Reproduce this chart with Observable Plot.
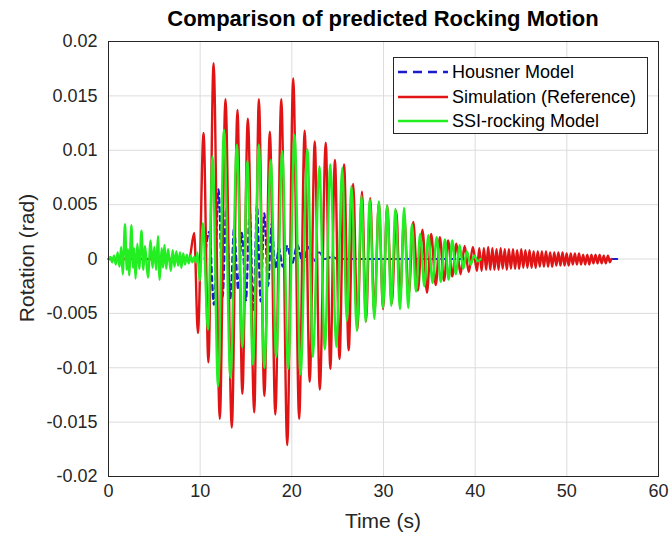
<!DOCTYPE html>
<html>
<head>
<meta charset="utf-8">
<script src="https://cdn.jsdelivr.net/npm/d3@7"></script>
<script src="https://cdn.jsdelivr.net/npm/@observablehq/plot@0.6"></script>
<style>
  html, body { margin: 0; padding: 0; background: #fff; }
  #wrap { position: relative; width: 670px; height: 537px; font-family: "Liberation Sans", Arial, sans-serif; color: #262626; }
  #title { position: absolute; left: 0; width: 766px; top: 6px; text-align: center; font-weight: bold; font-size: 22px; color: #000; }
  #xlabel { position: absolute; left: 0; width: 766px; top: 509px; text-align: center; font-size: 21px; }
  #ylabel { position: absolute; left: 27px; top: 258px; transform: translate(-50%, -50%) rotate(-90deg); font-size: 21px; white-space: nowrap; }
  #legend { position: absolute; left: 393px; top: 57px; width: 253px; height: 75px; border: 1px solid #262626; background: #fff; }
  .row { position: absolute; left: 0; height: 22px; display: flex; align-items: center; font-size: 18px; color: #000; }
  .row svg { margin-left: 4px; margin-right: 4px; }
</style>
</head>
<body>
<div id="wrap">
  <div id="chart"></div>
  <div id="title">Comparison of predicted Rocking Motion</div>
  <div id="xlabel">Time (s)</div>
  <div id="ylabel">Rotation (rad)</div>
  <div id="legend"></div>
</div>
<script>
// Tick values
const xTicks = [0, 10, 20, 30, 40, 50, 60];
const yTicks = [-0.02, -0.015, -0.01, -0.005, 0, 0.005, 0.01, 0.015, 0.02];

// Series names and colours
const seriesNames = ["Housner Model", "Simulation (Reference)", "SSI-rocking Model"];
const seriesColors = ["#1a1acf", "#e01414", "#22ee22"];

// Housner model: [time (s), rotation (rad)] at turning points
const housner = [
  [10.5, 0], [11.0, 0.0025], [11.5, -0.0042], [12.0, 0.0064], [12.45, -0.0035], [12.85, 0.0047],
  [13.3, -0.0036], [13.7, 0.0029], [14.15, -0.0028], [14.55, 0.0024], [15.0, -0.0038], [15.4, 0.0045],
  [15.8, -0.0048], [16.2, 0.0049], [16.6, -0.0039], [17.0, 0.0042], [17.4, -0.0025], [17.8, 0.0032],
  [18.2, -0.0008], [18.6, 0.001], [19.0, -0.0007], [19.5, 0.0012], [20.0, -0.0005], [20.6, 0.0013],
  [21.2, -0.0004], [21.8, 0.0011], [22.4, -0.0002], [23.0, 0.0006], [23.6, 0.0], [24.4, 0.0002],
  [25.0, 0.0], [55.7, 0.0]
];

// Simulation (reference): [time (s), rotation (rad)] at turning points
const simulation = [
  [0, 0], [8.8, 0], [9.35, 0.0024], [9.75, -0.0068], [10.37, 0.0116], [10.9, -0.0095],
  [11.46, 0.018], [12.14, -0.0147], [12.76, 0.0147], [13.45, -0.0155], [14.07, 0.0137], [14.6, -0.0124],
  [15.2, 0.0129], [15.9, -0.0141], [16.4, 0.0147], [17.0, -0.0126], [17.6, 0.0117], [18.2, -0.0143],
  [18.85, 0.0147], [19.5, -0.0171], [20.15, 0.0166], [20.8, -0.0147], [21.4, 0.0118], [21.95, -0.0113],
  [22.5, 0.0108], [23.05, -0.012], [23.7, 0.0107], [24.2, -0.0101], [24.7, 0.0091], [25.2, -0.0092],
  [25.7, 0.0087], [26.2, -0.0084], [26.7, 0.0069], [27.15, -0.0065], [27.65, 0.0062], [28.1, -0.0057],
  [28.55, 0.0056], [29.0, -0.0051], [29.5, 0.0052], [29.95, -0.0046], [30.4, 0.0049], [30.9, -0.0041],
  [31.4, 0.0044], [31.8, -0.0037], [32.25, 0.0039], [32.75, -0.0033], [33.25, 0.0034], [33.75, -0.0029],
  [34.25, 0.0027], [34.75, -0.0031], [35.2, 0.0023], [35.7, -0.0024], [36.15, 0.002], [36.6, -0.002],
  [37.05, 0.0017], [37.5, -0.0016], [37.95, 0.0014], [38.4, -0.0014], [38.85, 0.0012], [39.3, -0.0012],
  [39.75, 0.0011], [40.2, -0.0011], [40.45, 0.001], [40.7, -0.0011], [40.95, 0.001], [41.2, -0.001],
  [41.42, 0.0011], [41.65, -0.001], [41.88, 0.001], [42.1, -0.001], [42.33, 0.0009], [42.55, -0.001],
  [42.78, 0.001], [43.0, -0.0009], [43.23, 0.0009], [43.45, -0.001], [43.68, 0.0009], [43.9, -0.0009],
  [44.13, 0.0009], [44.35, -0.0009], [44.58, 0.0008], [44.8, -0.0009], [45.03, 0.0009], [45.25, -0.0008],
  [45.48, 0.0008], [45.7, -0.0008], [45.93, 0.0008], [46.15, -0.0008], [46.38, 0.0007], [46.6, -0.0008],
  [46.83, 0.0007], [47.05, -0.0007], [47.28, 0.0007], [47.5, -0.0007], [47.73, 0.0007], [47.95, -0.0007],
  [48.18, 0.0006], [48.4, -0.0007], [48.63, 0.0006], [48.85, -0.0006], [49.08, 0.0006], [49.3, -0.0006],
  [49.53, 0.0006], [49.75, -0.0006], [49.98, 0.0005], [50.2, -0.0006], [50.43, 0.0005], [50.65, -0.0005],
  [50.88, 0.0005], [51.1, -0.0005], [51.33, 0.0005], [51.55, -0.0005], [51.78, 0.0004], [52.0, -0.0005],
  [52.23, 0.0004], [52.45, -0.0005], [52.68, 0.0004], [52.9, -0.0004], [53.13, 0.0004], [53.35, -0.0004],
  [53.58, 0.0004], [53.8, -0.0004], [54.03, 0.0003], [54.25, -0.0004], [54.48, 0.0003], [54.7, -0.0003],
  [54.85, 0.0]
];

// SSI-rocking model: [time (s), rotation (rad)] at turning points
const ssiRocking = [
  [0, 0], [0.2, 0.0002], [0.4, -0.0003], [0.6, 0.0003], [0.8, -0.0005], [1.0, 0.0006], [1.2, -0.0007],
  [1.38, 0.0011], [1.55, -0.0014], [1.8, 0.0032], [2.0, -0.001], [2.12, 0.0009], [2.25, -0.0015],
  [2.5, 0.0031], [2.68, -0.0008], [2.8, 0.001], [2.95, -0.0018], [3.15, 0.0014], [3.35, -0.0009],
  [3.6, 0.0026], [3.8, -0.001], [3.98, 0.0012], [4.3, -0.0017], [4.6, 0.0017], [4.8, -0.0008],
  [5.0, 0.0011], [5.2, -0.001], [5.4, 0.0021], [5.58, -0.0019], [5.8, 0.001], [5.95, -0.0008],
  [6.1, 0.0013], [6.3, -0.0009], [6.5, 0.0009], [6.8, -0.0011], [7.0, 0.0008], [7.2, -0.0007],
  [7.4, 0.0007], [7.6, -0.0006], [7.8, 0.0006], [7.95, -0.0008], [8.15, 0.0005], [8.35, -0.0005],
  [8.55, 0.0004], [8.75, -0.0004], [8.95, 0.0003], [9.15, -0.0003], [9.35, 0.0002], [9.55, -0.0003],
  [9.7, 0.0006], [9.95, -0.002], [10.3, 0.0033], [10.85, -0.0065], [11.35, 0.0094], [11.95, -0.0117],
  [12.6, 0.0119], [13.3, -0.0109], [14.0, 0.0105], [14.6, -0.0081], [15.15, 0.009], [15.75, -0.0097],
  [16.4, 0.0105], [17.0, -0.01], [17.7, 0.0091], [18.3, -0.009], [18.95, 0.0099], [19.6, -0.0101],
  [20.3, 0.0114], [20.95, -0.0106], [21.7, 0.0101], [22.3, -0.009], [23.0, 0.0085], [23.6, -0.0083],
  [24.2, 0.0087], [24.85, -0.0081], [25.5, 0.0084], [26.0, -0.0057], [26.5, 0.0067], [27.1, -0.0066],
  [27.6, 0.0058], [28.05, -0.0058], [28.5, 0.0055], [29.0, -0.0055], [29.5, 0.0053], [29.95, -0.0045],
  [30.4, 0.0049], [30.85, -0.0043], [31.3, 0.0046], [31.8, -0.0046], [32.25, 0.0047], [32.7, -0.0045],
  [33.1, 0.0032], [33.55, -0.003], [34.0, 0.0023], [34.45, -0.0025], [34.9, 0.0022], [35.35, -0.0022],
  [35.8, 0.002], [36.25, -0.0021], [36.7, 0.0018], [37.1, -0.0019], [37.5, 0.0017], [37.9, -0.0014],
  [38.3, 0.0013], [38.7, -0.0009], [39.1, 0.0007], [39.5, -0.0005], [39.9, 0.0003], [40.3, -0.0002],
  [40.6, 0.0]
];

const toRows = (arr) => arr.map(([t, v]) => ({t, v}));
const fmt = (d) => String(+d.toFixed(4));

const chart = Plot.plot({
  width: 670,
  height: 537,
  marginLeft: 108,
  marginRight: 12,
  marginTop: 41,
  marginBottom: 61,
  style: {fontFamily: "'Liberation Sans', Arial, sans-serif", fontSize: "18px", color: "#262626", background: "#fff"},
  x: {domain: [0, 60], label: null},
  y: {domain: [-0.02, 0.02], label: null},
  marks: [
    Plot.gridX(xTicks, {stroke: "#dcdcdc", strokeOpacity: 1}),
    Plot.gridY(yTicks, {stroke: "#dcdcdc", strokeOpacity: 1}),
    Plot.line(toRows(housner), {x: "t", y: "v", stroke: seriesColors[0], strokeWidth: 2.2, strokeDasharray: "5,4", curve: "monotone-x"}),
    Plot.line(toRows(simulation), {x: "t", y: "v", stroke: seriesColors[1], strokeWidth: 2.4, curve: "monotone-x"}),
    Plot.line(toRows(ssiRocking), {x: "t", y: "v", stroke: seriesColors[2], strokeWidth: 2.4, curve: "monotone-x"}),
    Plot.frame({stroke: "#262626", strokeWidth: 1}),
    Plot.axisX(xTicks, {tickSize: 0, tickPadding: 8, tickFormat: fmt, label: null}),
    Plot.axisY(yTicks, {tickSize: 0, tickPadding: 11, tickFormat: fmt, label: null})
  ]
});
document.getElementById("chart").appendChild(chart);

// Legend
const legend = document.getElementById("legend");
const rowTops = [3, 28, 52];
seriesNames.forEach((name, i) => {
  const row = document.createElement("div");
  row.className = "row";
  row.style.top = rowTops[i] + "px";
  const dash = i === 0 ? ' stroke-dasharray="9,6"' : '';
  row.innerHTML = `<svg width="50" height="10"><line x1="0" y1="5" x2="50" y2="5" stroke="${seriesColors[i]}" stroke-width="2.5"${dash}/></svg><span>${name}</span>`;
  legend.appendChild(row);
});
</script>
</body>
</html>
